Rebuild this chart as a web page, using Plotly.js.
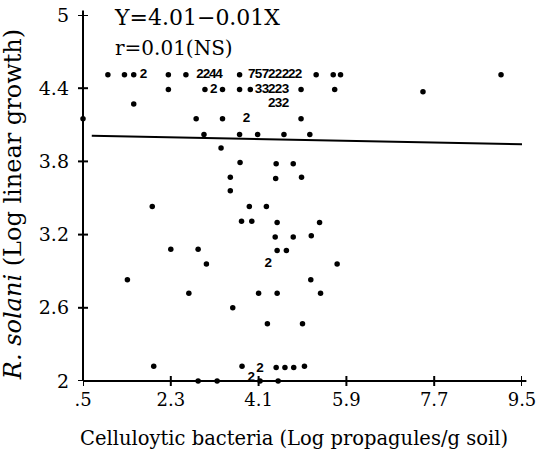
<!DOCTYPE html>
<html>
<head>
<meta charset="utf-8">
<script src="https://cdn.plot.ly/plotly-3.0.1.min.js"></script>
<style>html,body{margin:0;padding:0;background:#fff;}#chart{width:536px;height:449px;}</style>
</head>
<body>
<div id="chart"></div>
<script>
// Single observations (Log propagules/g soil, Log linear growth)
var dotX = [1.01, 1.35, 1.54, 2.25, 2.61, 3.71, 5.28, 5.63, 5.78, 9.07,
            2.25, 3.00, 3.36, 3.71, 3.93, 4.97, 5.66,
            7.47,
            1.54,
            0.50, 2.82, 3.36, 4.97,
            2.98, 3.71, 4.08, 4.62, 5.15,
            3.33,
            3.72, 4.46, 4.81,
            3.52, 4.98, 4.45,
            3.52,
            1.92, 3.91, 4.26,
            3.75, 3.96, 4.48, 5.35,
            4.44, 4.81, 5.18,
            2.30, 2.86, 4.48, 4.67,
            3.03, 5.71,
            1.41, 5.17,
            2.67, 4.10, 4.48, 5.37,
            3.57,
            4.28, 5.00,
            1.95, 3.76, 4.46, 4.64, 4.82, 5.04,
            2.86, 3.25, 4.13, 4.50];
var dotY = [4.51, 4.51, 4.51, 4.51, 4.51, 4.51, 4.51, 4.51, 4.51, 4.51,
            4.39, 4.39, 4.39, 4.39, 4.39, 4.39, 4.39,
            4.37,
            4.27,
            4.15, 4.15, 4.15, 4.15,
            4.02, 4.02, 4.02, 4.02, 4.02,
            3.91,
            3.79, 3.78, 3.78,
            3.67, 3.67, 3.66,
            3.56,
            3.43, 3.43, 3.43,
            3.31, 3.31, 3.30, 3.30,
            3.18, 3.18, 3.19,
            3.08, 3.08, 3.07, 3.07,
            2.96, 2.96,
            2.83, 2.83,
            2.72, 2.72, 2.72, 2.72,
            2.60,
            2.47, 2.47,
            2.12, 2.12, 2.11, 2.11, 2.11, 2.12,
            2.00, 2.00, 2.00, 2.00];

// Coincident observations: number of points at each position
var countX = [1.74, 2.90, 3.03, 3.16, 3.29,
              3.96, 4.10, 4.24, 4.37, 4.51, 4.65, 4.78, 4.92,
              3.18, 4.10, 4.24, 4.37, 4.51, 4.65,
              4.37, 4.51, 4.65,
              3.85, 4.30, 4.13, 3.95];
var countY = [4.51, 4.51, 4.51, 4.51, 4.51,
              4.51, 4.51, 4.51, 4.51, 4.51, 4.51, 4.51, 4.51,
              4.39, 4.39, 4.39, 4.39, 4.39, 4.39,
              4.27, 4.27, 4.27,
              4.15, 2.96, 2.10, 2.03];
var countN = ["2", "2", "2", "4", "4",
              "7", "5", "7", "2", "2", "2", "2", "2",
              "2", "3", "3", "2", "2", "3",
              "2", "3", "2",
              "2", "2", "2", "2"];

// Regression line Y = 4.01 - 0.01X, end points
var lineX = [0.68, 9.52];
var lineY = [4.01, 3.94];

var xRange = [0.5, 9.5];
var yRange = [2, 5];
var xTickVals = [0.5, 2.3, 4.1, 5.9, 7.7, 9.5];
var xTickText = [".5", "2.3", "4.1", "5.9", "7.7", "9.5"];
var yTickVals = [2, 2.6, 3.2, 3.8, 4.4, 5];
var yTickText = ["2", "2.6", "3.2", "3.8", "4.4", "5"];

var serif = "DejaVu Serif, Liberation Serif, serif";

var traces = [
  {x: lineX, y: lineY, mode: "lines", line: {color: "#000", width: 2}, hoverinfo: "skip"},
  {x: dotX, y: dotY, mode: "markers", marker: {color: "#000", size: 5.5}, cliponaxis: false},
  {x: countX, y: countY, mode: "text", text: countN, textposition: "middle center",
   textfont: {family: "Liberation Sans Narrow, Liberation Sans, sans-serif", size: 13.5, weight: "bold", color: "#000"},
   cliponaxis: false}
];

// Axis lines and cross-shaped ticks, drawn as thin filled rectangles
var ink = {fillcolor: "#000", line: {width: 0}, layer: "above", type: "rect"};
function rect(o) { return Object.assign({}, ink, o); }
var shapes = [
  rect({xref: "paper", x0: 0, x1: 1.01, yref: "paper", ysizemode: "pixel", yanchor: 0, y0: -1, y1: 1}),
  rect({yref: "paper", y0: 0, y1: 1.012, xref: "paper", xsizemode: "pixel", xanchor: 0, x0: -1, x1: 1})
];
xTickVals.forEach(function (v) {
  shapes.push(rect({xref: "x", xsizemode: "pixel", xanchor: v, x0: -1, x1: 1,
                    yref: "paper", ysizemode: "pixel", yanchor: 0, y0: -5, y1: 5}));
});
yTickVals.forEach(function (v) {
  shapes.push(rect({yref: "y", ysizemode: "pixel", yanchor: v, y0: -1, y1: 1,
                    xref: "paper", xsizemode: "pixel", xanchor: 0, x0: -5, x1: 5}));
});

var layout = {
  width: 536, height: 449,
  margin: {l: 83, r: 14, t: 15, b: 68},
  paper_bgcolor: "#fff", plot_bgcolor: "rgba(0,0,0,0)",
  showlegend: false,
  font: {family: serif, color: "#000"},
  xaxis: {
    range: xRange, tickmode: "array", tickvals: xTickVals, ticktext: xTickText,
    ticks: "", showline: false, showgrid: false, zeroline: false,
    tickfont: {family: serif, size: 18, color: "#000"}, ticklabelstandoff: 6, ticklabeloverflow: "allow"
  },
  yaxis: {
    range: yRange, tickmode: "array", tickvals: yTickVals, ticktext: yTickText,
    ticks: "", showline: false, showgrid: false, zeroline: false,
    tickfont: {family: serif, size: 19, color: "#000"}, ticklabelstandoff: 13
  },
  shapes: shapes,
  annotations: [
    {text: "Celluloytic bacteria (Log propagules/g soil)", xref: "paper", yref: "paper", x: 0.48, y: -0.156,
     xanchor: "center", yanchor: "middle", showarrow: false, font: {family: serif, size: 19.5, color: "#000"}},
    {text: "<i>R. solani</i> (Log linear growth)", xref: "paper", yref: "paper", x: -0.159, y: 0.481,
     xanchor: "center", yanchor: "middle", textangle: -90, showarrow: false, font: {family: serif, size: 24, color: "#000"}},
    {text: "Y=4.01\u22120.01X", xref: "paper", yref: "paper", x: 0.066, y: 0.992, xanchor: "left", yanchor: "middle",
     showarrow: false, font: {family: serif, size: 22, color: "#000"}},
    {text: "r=0.01(NS)", xref: "paper", yref: "paper", x: 0.069, y: 0.91, xanchor: "left", yanchor: "middle",
     showarrow: false, font: {family: serif, size: 20, color: "#000"}}
  ]
};

Plotly.newPlot("chart", traces, layout, {displayModeBar: false});
</script>
</body>
</html>
